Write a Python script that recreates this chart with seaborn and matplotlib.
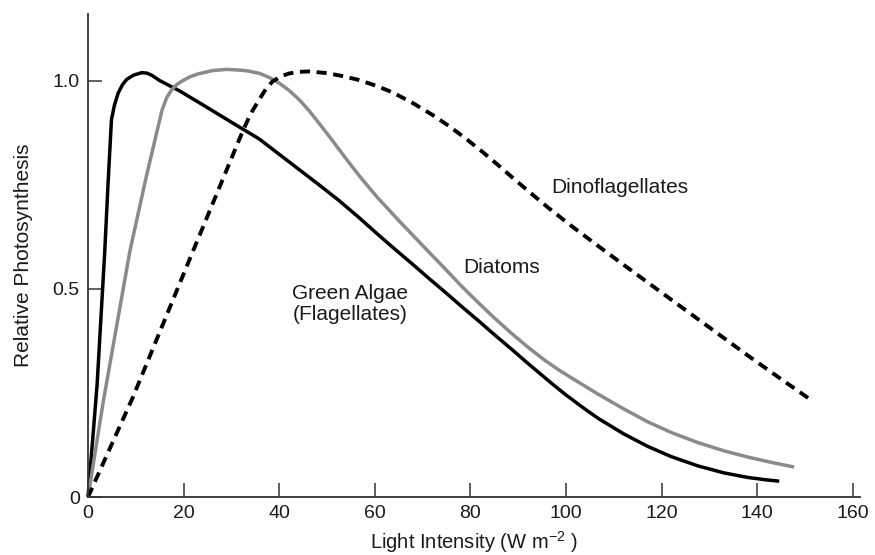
import matplotlib
matplotlib.use("Agg")
import matplotlib.pyplot as plt
import seaborn as sns

# Light-response curves of three phytoplankton groups
green_x = [0, 1.9, 3.5, 4.2, 4.9, 5.5, 6.3, 7.2, 8.1, 9.5, 11.2, 12.3, 13.3,
           15.0, 19.2, 25.0, 30.0, 35.8, 40.0, 44.2, 48.3, 52.5, 56.5, 60.5,
           64.0, 67.8, 71.0, 74.7, 78.0, 81.7, 85.0, 88.6, 91.8, 94.9, 97.5,
           100.0, 103.5, 106.7, 112.0, 117.0, 122.0, 127.5, 133.0, 138.0,
           142.0, 144.6]
green_y = [0, 0.27, 0.59, 0.755, 0.906, 0.94, 0.97, 0.99, 1.003, 1.013, 1.019,
           1.018, 1.013, 1.0, 0.975, 0.935, 0.9, 0.86, 0.823, 0.786, 0.75,
           0.712, 0.673, 0.632, 0.597, 0.56, 0.528, 0.492, 0.459, 0.423, 0.39,
           0.355, 0.323, 0.293, 0.268, 0.245, 0.215, 0.189, 0.152, 0.122,
           0.097, 0.075, 0.058, 0.047, 0.041, 0.038]

diatom_x = [0, 3.2, 8.75, 12.2, 15.5, 16.5, 17.5, 18.5, 19.8, 21.5, 23.0, 26.0,
            29.0, 32.0, 33.5, 36.0, 38.0, 40.0, 42.0, 44.2, 46.3, 48.3, 50.4,
            52.5, 54.6, 56.7, 58.8, 60.8, 63.0, 65.0, 68.5, 71.5, 74.7, 78.0,
            81.7, 85.0, 88.6, 92.0, 95.6, 98.5, 101.0, 104.0, 106.7, 112.0,
            117.0, 122.0, 127.5, 133.0, 138.0, 143.0, 147.7]
diatom_y = [0, 0.23, 0.59, 0.77, 0.93, 0.96, 0.978, 0.99, 1.0, 1.01, 1.016,
            1.024, 1.027, 1.025, 1.023, 1.017, 1.007, 0.994, 0.977, 0.954,
            0.927, 0.898, 0.867, 0.835, 0.803, 0.772, 0.743, 0.716, 0.689,
            0.664, 0.622, 0.586, 0.548, 0.508, 0.466, 0.43, 0.393, 0.36, 0.328,
            0.305, 0.287, 0.266, 0.247, 0.212, 0.181, 0.155, 0.131, 0.111,
            0.096, 0.083, 0.072]

dino_x = [0, 9.4, 22.3, 32.3, 34.0, 35.8, 37.2, 38.6, 40.3, 42.0, 44.0, 46.25,
          50.0, 53.2, 56.5, 60.2, 63.0, 65.0, 67.8, 72.0, 75.5, 79.0, 82.5,
          85.8, 89.0, 92.7, 96.25, 101.0, 106.7, 112.0, 117.0, 122.0, 127.5,
          133.0, 138.0, 145.0, 151.0]
dino_y = [0, 0.24, 0.60, 0.877, 0.92, 0.954, 0.98, 0.998, 1.01, 1.017, 1.021,
          1.022, 1.018, 1.011, 1.002, 0.988, 0.975, 0.964, 0.947, 0.918, 0.891,
          0.861, 0.829, 0.797, 0.765, 0.729, 0.695, 0.652, 0.603, 0.558, 0.516,
          0.474, 0.428, 0.382, 0.34, 0.283, 0.235]

x_ticks = [0, 20, 40, 60, 80, 100, 120, 140, 160]
y_ticks = [0, 0.5, 1.0]
y_tick_labels = ["0", "0.5", "1.0"]

sns.set_theme(style="white")
plt.rcParams["font.family"] = ["Liberation Sans", "DejaVu Sans"]
plt.rcParams["mathtext.fontset"] = "custom"
plt.rcParams["mathtext.rm"] = "Liberation Sans"

fig = plt.figure(figsize=(8.75, 5.55), dpi=100)
ax = fig.add_axes([0.1006, 0.1045, 0.8823, 0.8703])

text_color = "#1a1a1a"

sns.lineplot(x=green_x, y=green_y, ax=ax, color="black", linewidth=2.5,
             sort=False, estimator=None)
sns.lineplot(x=diatom_x, y=diatom_y, ax=ax, color="#8a8a8a", linewidth=2.5,
             sort=False, estimator=None)
sns.lineplot(x=dino_x, y=dino_y, ax=ax, color="black", linewidth=2.8,
             sort=False, estimator=None)
ax.lines[-1].set_dashes((2.6, 1.7))
for ln in ax.lines:
    ln.set_clip_on(False)
    ln.set_solid_joinstyle("round")
    ln.set_solid_capstyle("butt")

ax.set_xlim(0, 161.5)
ax.set_ylim(0, 1.16)
ax.set_xticks(x_ticks, labels=[str(v) for v in x_ticks])
ax.set_yticks(y_ticks, labels=y_tick_labels)
ax.tick_params(axis="both", direction="in", length=10, width=1.1,
               bottom=True, left=True, colors="#333333",
               labelcolor=text_color, labelsize=14)
ax.tick_params(axis="x", pad=6)
ax.tick_params(axis="y", pad=6)

for side in ("top", "right"):
    ax.spines[side].set_visible(False)
for side in ("left", "bottom"):
    ax.spines[side].set_color("#333333")
    ax.spines[side].set_linewidth(1.3)

ax.set_xlabel(r"Light Intensity (W m$^{-2}$ )", fontsize=14.5, color=text_color,
              labelpad=5)
ax.set_ylabel("Relative Photosynthesis", fontsize=15, color=text_color,
              labelpad=14)

ax.text(96.9, 0.743, "Dinoflagellates", fontsize=15, color=text_color,
        ha="left", va="center")
ax.text(78.5, 0.55, "Diatoms", fontsize=15, color=text_color,
        ha="left", va="center")
ax.text(54.8, 0.463, "Green Algae\n(Flagellates)", fontsize=15,
        color=text_color, ha="center", va="center", linespacing=1.1)

fig.savefig("out.png", dpi=100)
